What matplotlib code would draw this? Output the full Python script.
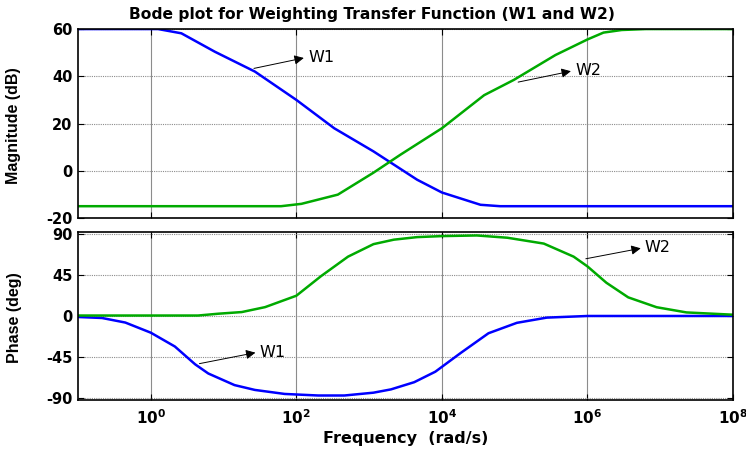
import matplotlib
matplotlib.use("Agg")
import matplotlib.pyplot as plt
import numpy as np

plt.rcParams['font.family'] = ['DejaVu Sans']
plt.rcParams['axes.unicode_minus'] = False
plt.rcParams['mathtext.fontset'] = 'custom'
plt.rcParams['mathtext.rm'] = 'DejaVu Sans:bold'
plt.rcParams['mathtext.bf'] = 'DejaVu Sans:bold'
plt.rcParams['mathtext.it'] = 'DejaVu Sans:bold'

# ---- data (log10 of frequency in rad/s) ----
w1_mag_logw = [-1.0, 0.1, 0.42, 0.88, 1.43, 2.0, 2.52, 3.06, 3.66, 4.0, 4.53, 4.8, 8.0]
w1_mag_db   = [60, 60, 58.2, 50.4, 42, 30, 18, 8.2, -3.8, -9.2, -14.4, -15, -15]

w2_mag_logw = [-1.0, 1.79, 2.07, 2.57, 3.06, 3.43, 4.0, 4.58, 4.99, 5.56, 6.0, 6.22, 6.47, 6.8, 8.0]
w2_mag_db   = [-15, -15, -14, -10.1, -0.8, 6.8, 18, 32, 38.5, 49, 55.6, 58.5, 59.6, 60, 60]

w1_ph_logw = [-1.0, -0.67, -0.35, 0.0, 0.33, 0.61, 0.79, 1.15, 1.43, 1.84, 2.3, 2.66, 3.06,
              3.3, 3.62, 3.91, 4.26, 4.64, 5.03, 5.44, 6.0, 8.0]
w1_ph_deg  = [-1.1, -2.2, -7.2, -18.3, -33.4, -53, -63, -75.7, -81, -85.4, -87.1, -87.1, -84,
              -80.4, -72.5, -61, -40.4, -18.9, -7.5, -1.8, 0, 0]

w2_ph_logw = [-1.0, 0.65, 0.93, 1.25, 1.57, 2.0, 2.34, 2.71, 3.06, 3.34, 3.66, 4.0, 4.48,
              4.9, 5.4, 5.81, 6.0, 6.26, 6.56, 6.95, 7.36, 8.0]
w2_ph_deg  = [0.5, 0.5, 2.5, 4.3, 9.7, 22.2, 43.7, 65, 78.7, 83.6, 86.4, 87.5, 88.2,
              85.7, 79.3, 65, 54.3, 36.4, 20.4, 9.6, 3.9, 1.4]

mag_ticks = [-20, 0, 20, 40, 60]
ph_ticks = [-90, -45, 0, 45, 90]
x_tick_exp = [0, 2, 4, 6, 8]

blue = '#0000FF'
green = '#00AA00'

fig = plt.figure(figsize=(7.46, 4.54), dpi=100)
ax1 = fig.add_axes([0.1046, 0.5198, 0.878, 0.4162])
ax2 = fig.add_axes([0.1046, 0.119, 0.878, 0.370])

def style(ax):
    ax.set_xscale('log')
    ax.set_xlim(1e-1, 1e8)
    ax.set_xticks([10.0 ** e for e in x_tick_exp])
    ax.xaxis.set_minor_locator(matplotlib.ticker.NullLocator())
    ax.xaxis.grid(True, which='major', color='#8c8c8c', linestyle='-', linewidth=0.8)
    ax.yaxis.grid(True, which='major', color='#8c8c8c', linestyle=(0, (1, 1)), linewidth=0.8)
    ax.set_axisbelow(True)
    ax.tick_params(direction='in', length=4, width=0.8, top=True, right=True,
                   labelsize=10.5, pad=4)
    for s in ax.spines.values():
        s.set_linewidth(1.2)
    for lab in ax.get_yticklabels():
        lab.set_fontweight('bold')

# Magnitude
ax1.plot(10.0 ** np.array(w1_mag_logw), w1_mag_db, color=blue, lw=1.8)
ax1.plot(10.0 ** np.array(w2_mag_logw), w2_mag_db, color=green, lw=1.8)
ax1.set_ylim(-20, 60)
ax1.set_yticks(mag_ticks)
style(ax1)
ax1.set_xticklabels([])
ax1.set_ylabel('Magnitude (dB)', fontweight='bold', fontsize=11.5,
               family='Liberation Sans')
ax1.yaxis.set_label_coords(-0.087, 0.49)
fig.text(0.4987, 1 - 14 / 454, 'Bode plot for Weighting Transfer Function (W1 and W2)',
         fontweight='bold', fontsize=11.2, ha='center', va='center')

# Phase
ax2.plot(10.0 ** np.array(w1_ph_logw), w1_ph_deg, color=blue, lw=1.8)
ax2.plot(10.0 ** np.array(w2_ph_logw), w2_ph_deg, color=green, lw=1.8)
ax2.set_ylim(-92, 92)
ax2.set_yticks(ph_ticks)
style(ax2)
ax2.set_xticklabels([r'$\mathbf{10^{%d}}$' % e for e in x_tick_exp], fontsize=11)
ax2.tick_params(axis='x', pad=6)
ax2.set_ylabel('Phase (deg)', fontweight='bold', fontsize=11.5,
               family='Liberation Sans')
ax2.yaxis.set_label_coords(-0.085, 0.49)
ax2.set_xlabel('Frequency  (rad/s)', fontweight='bold', fontsize=11.5, labelpad=3)

arrowprops = dict(arrowstyle='-|>', color='black', lw=0.7, mutation_scale=14)
def note(ax, txt, xy_log, xytext_log):
    ax.annotate('', xy=(10 ** xytext_log[0], xytext_log[1]),
                xytext=(10 ** xy_log[0], xy_log[1]), arrowprops=arrowprops)
    ax.text(10 ** (xytext_log[0] + 0.02), xytext_log[1], txt, fontsize=11.5,
            va='center', ha='left')

note(ax1, 'W1', (1.38, 43.1), (2.14, 48.0))
note(ax1, 'W2', (5.01, 37.3), (5.81, 42.4))
note(ax2, 'W1', (0.63, -52.8), (1.475, -39.6))
note(ax2, 'W2', (5.94, 62.1), (6.77, 74.7))

fig.savefig('out.png', dpi=100)
